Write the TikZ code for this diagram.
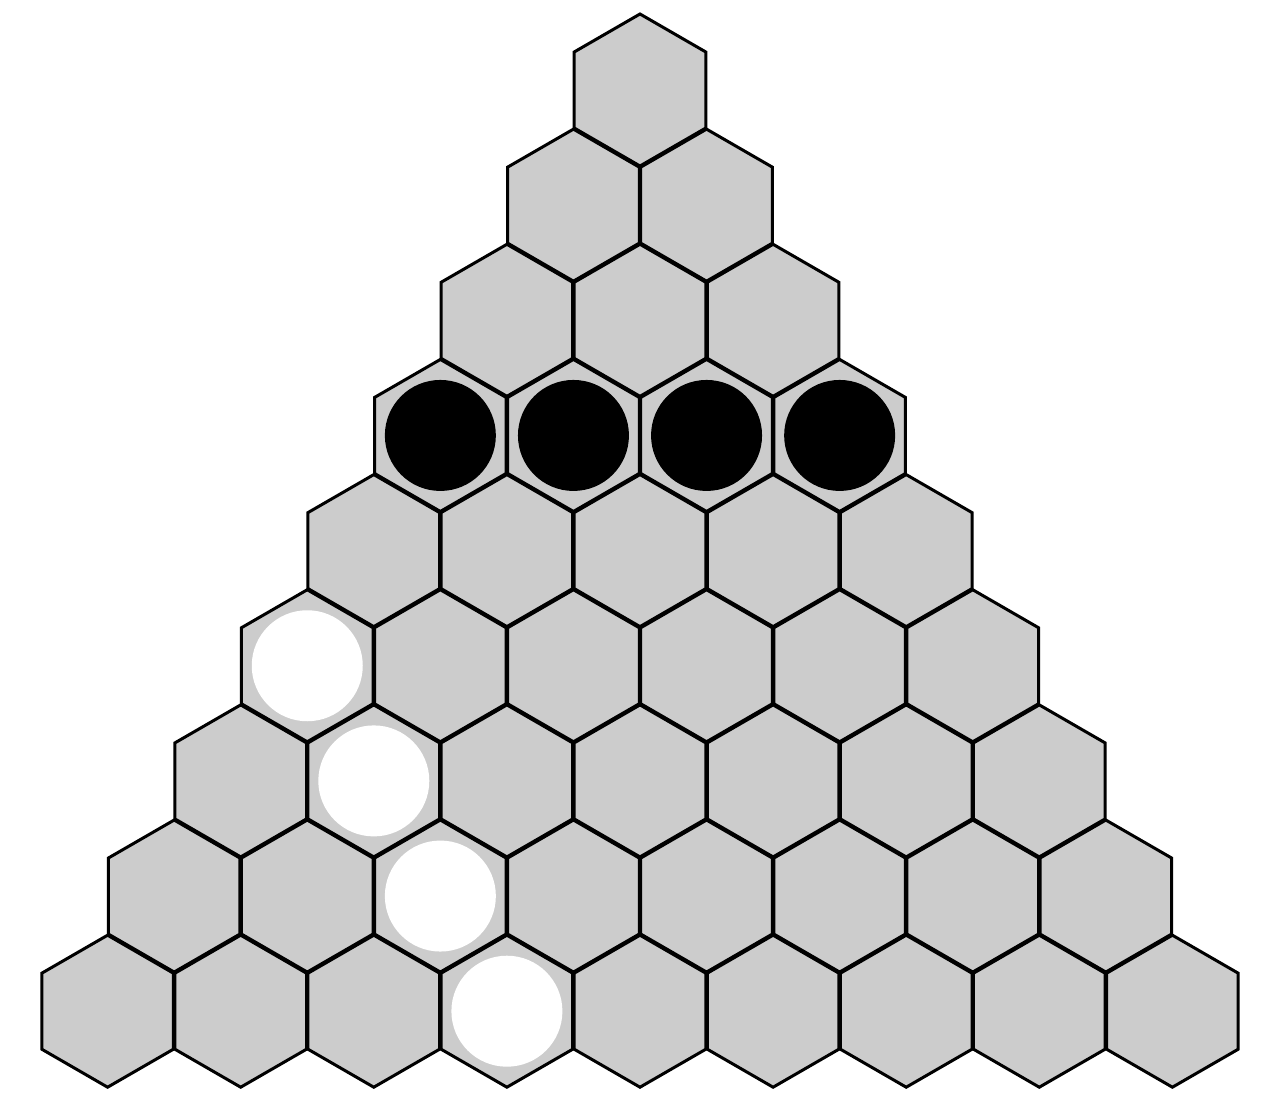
\documentclass[tikz,border=0pt]{standalone}
\usetikzlibrary{shapes.geometric}
\definecolor{hexgray}{RGB}{204,204,204}
\begin{document}
\begin{tikzpicture}[x=1pt,y=-1pt,
 hexcell/.style={regular polygon, regular polygon sides=6, shape border rotate=30,
   minimum size=152pt, inner sep=0pt, outer sep=0pt, fill=hexgray, draw=black,
   line width=3pt, line join=miter},
 blackstone/.style={circle, fill=black, minimum size=111pt, inner sep=0pt, outer sep=0pt},
 whitestone/.style={circle, fill=white, minimum size=111pt, inner sep=0pt, outer sep=0pt}]
\useasboundingbox (0,0) rectangle (1280,1102);
\foreach \r in {0,...,8}{
  \foreach \c in {0,...,\r}{
    \node[hexcell] (h-\r-\c) at ({640+(\c-\r/2)*133.1},{90+\r*115.15}) {};
  }
}
\foreach \c in {0,...,3}{
  \node[blackstone] (b-\c) at (h-3-\c) {};
}
\node[whitestone] (w-0) at (h-5-0) {};
\node[whitestone] (w-1) at (h-6-1) {};
\node[whitestone] (w-2) at (h-7-2) {};
\node[whitestone] (w-3) at (h-8-3) {};
\end{tikzpicture}
\end{document}
